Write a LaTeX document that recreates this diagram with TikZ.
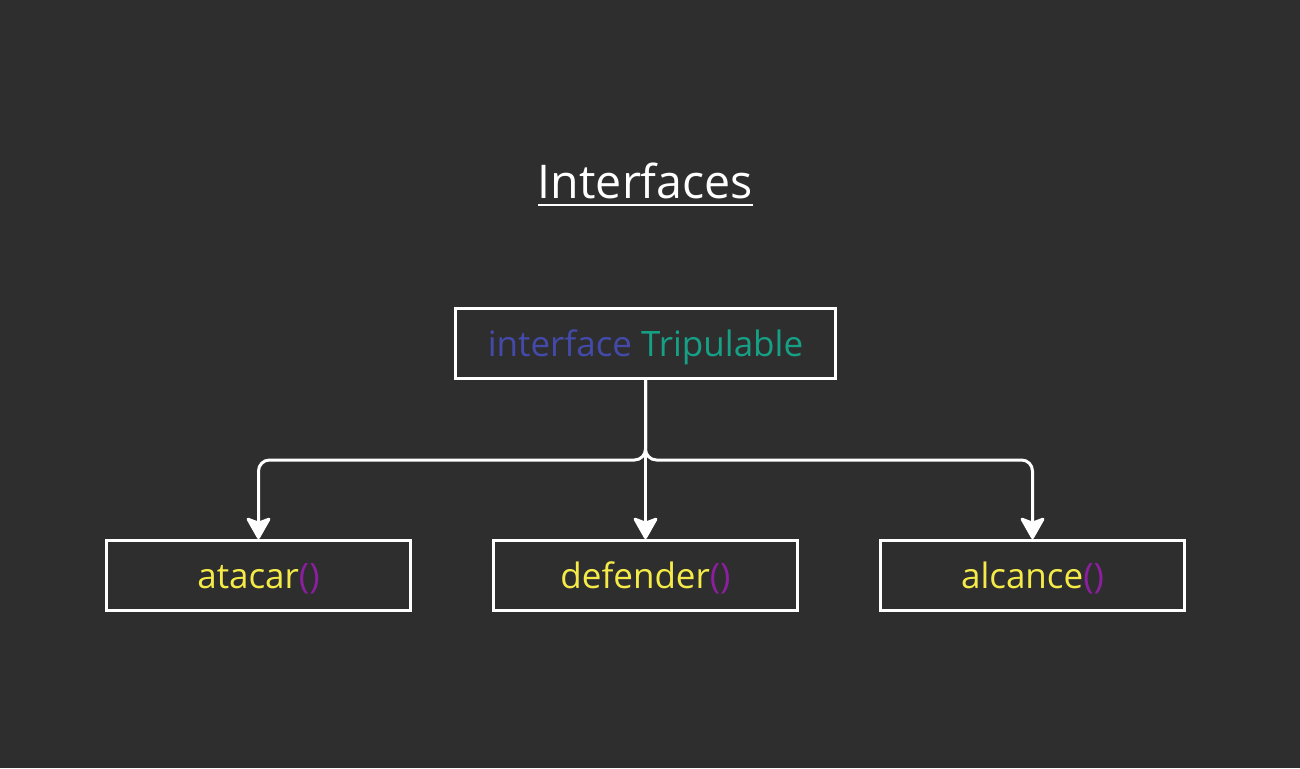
\documentclass[tikz,border=0pt]{standalone}
\usepackage{fontspec}
\setmainfont{Open Sans}
\usetikzlibrary{arrows.meta}
\definecolor{bg}{HTML}{2E2E2E}
\definecolor{kwblue}{RGB}{68,74,170}
\definecolor{clteal}{RGB}{22,160,133}
\definecolor{fnyellow}{RGB}{245,235,72}
\definecolor{parpurple}{RGB}{140,30,160}
\tikzset{
  box/.style={draw=white, line width=3pt, minimum height=70pt, inner sep=0pt},
  topbox/.style={box, minimum width=380pt},
  fnbox/.style={box, minimum width=304pt},
  conn/.style={draw=white, line width=3pt, rounded corners=11pt,
    -{Stealth[length=24pt, width=27pt, inset=5pt, round]}},
  lbl/.style={font=\fontsize{35}{42}\selectfont, text height=33pt, text depth=8pt},
}
\newcommand{\fn}[1]{\textcolor{fnyellow}{#1}\textcolor{parpurple}{()}}
\begin{document}
\begin{tikzpicture}[x=1pt,y=-1pt]
\fill[bg] (0,0) rectangle (1300,768);
\useasboundingbox (0,0) rectangle (1300,768);
\node[anchor=base, inner sep=0pt, text=white, font=\fontsize{46.5}{54}\selectfont] (title) at (645.5,198.5) {Interfaces};
\draw[white, line width=2.5pt] ([yshift=-6.5pt]title.base west) -- ([yshift=-6.5pt]title.base east);
\node[topbox, lbl] (top) at (645.5,343.5) {\textcolor{kwblue}{interface} \textcolor{clteal}{Tripulable}};
\node[fnbox, lbl] (a) at (258.5,575.5) {\fn{atacar}};
\node[fnbox, lbl] (d) at (645.5,575.5) {\fn{defender}};
\node[fnbox, lbl] (c) at (1032.5,575.5) {\fn{alcance}};
\coordinate (j) at (645.5,460);
\draw[conn] (top.south) -- (j) -- (a.north |- j) -- (a.north);
\draw[conn] (top.south) -- (j) -- (c.north |- j) -- (c.north);
\draw[conn, rounded corners=0pt] (top.south) -- (d.north);
\end{tikzpicture}
\end{document}
